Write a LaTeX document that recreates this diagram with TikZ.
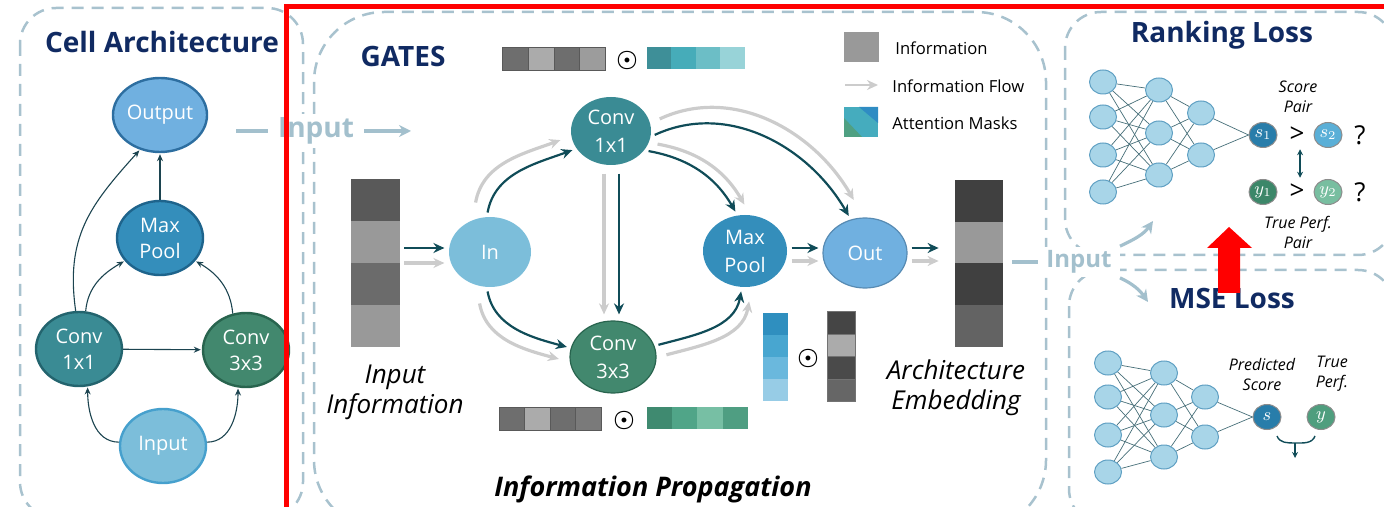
\documentclass[tikz,border=0pt]{standalone}
\usepackage{fontspec}
\setmainfont{Open Sans}
\usetikzlibrary{arrows.meta,shapes.geometric}
\definecolor{dashc}{RGB}{168,194,206}
\definecolor{lblc}{RGB}{163,192,205}
\definecolor{navy}{RGB}{16,42,98}
\definecolor{flowdark}{RGB}{16,76,88}
\definecolor{flowgray}{RGB}{204,204,204}
\definecolor{celldark}{RGB}{28,68,80}
\definecolor{outc}{RGB}{112,176,224}
\definecolor{outb}{RGB}{45,110,160}
\definecolor{poolc}{RGB}{52,142,187}
\definecolor{poolb}{RGB}{30,100,140}
\definecolor{convac}{RGB}{58,139,148}
\definecolor{convab}{RGB}{35,100,110}
\definecolor{convbc}{RGB}{66,136,110}
\definecolor{convbb}{RGB}{40,100,78}
\definecolor{inc}{RGB}{124,190,218}
\definecolor{inb}{RGB}{70,160,205}
\definecolor{nnfill}{RGB}{168,213,232}
\definecolor{nnline}{RGB}{95,160,195}
\definecolor{nnedgec}{RGB}{70,110,120}
\definecolor{redc}{RGB}{255,0,0}
\begin{document}
\begin{tikzpicture}[x=.5pt,y=-.5pt,
  panel/.style={draw=dashc,line width=1.25pt,dash pattern=on 6pt off 4pt,rounded corners=18pt},
  paneltitle/.style={font=\bfseries\fontsize{14}{16}\selectfont,text=navy,inner sep=0pt},
  cellop/.style={ellipse,minimum width=43pt,minimum height=37pt,inner sep=0pt,line width=1.2pt,text=white,align=center,font=\fontsize{10}{13}\selectfont},
  gateop/.style={ellipse,inner sep=0pt,line width=0.6pt,text=white,align=center,font=\fontsize{10}{14}\selectfont},
  cellflow/.style={draw=celldark,line width=0.55pt,-{Stealth[length=3.5pt,width=3pt]},shorten >=0.5pt},
  darkflow/.style={draw=flowdark,line width=1.1pt,-{Stealth[length=5.5pt,width=5pt]},shorten <=2pt,shorten >=2pt},
  grayflow/.style={draw=flowgray,line width=1.6pt,-{Stealth[length=5.5pt,width=5pt]},shorten <=2pt,shorten >=2pt},
  inputlbl/.style={font=\bfseries\fontsize{14}{16}\selectfont,text=lblc,fill=white,inner xsep=5pt,inner ysep=2pt},
  lblflow/.style={draw=lblc,line width=1.6pt},
  italbl/.style={font=\itshape\fontsize{13}{15}\selectfont,align=center,inner sep=0pt},
  legendtxt/.style={font=\fontsize{8.3}{10}\selectfont,anchor=west,inner sep=0pt},
  odotsym/.style={font=\fontsize{13}{13}\selectfont\boldmath,inner sep=0pt},
  nncell/.style={ellipse,minimum width=13.5pt,minimum height=12pt,inner sep=0pt,fill=nnfill,draw=nnline,line width=0.5pt},
  nnedge/.style={draw=nnedgec,line width=0.35pt},
  scorecell/.style={ellipse,minimum width=14pt,minimum height=12.5pt,inner sep=0pt,draw=black!45,line width=0.5pt,text=white,font=\fontsize{9}{9}\selectfont},
  smalllbl/.style={font=\itshape\fontsize{8}{10}\selectfont,align=center,inner sep=0pt},
  cmpsign/.style={font=\fontsize{13}{13}\selectfont,inner sep=1pt}]
\path[use as bounding box] (0,0) rectangle (1384,507);
\draw[panel] (20,8) rectangle (303,518);
\draw[panel,rounded corners=35pt] (314,12) rectangle (1046,530);
\draw[panel] (1065,12) rectangle (1394,255);
\draw[panel] (1069,270) rectangle (1394,525);
\node[paneltitle] (cell-title) at (162,42) {Cell Architecture};
\node[cellop,fill=outc,draw=outb] (c-out) at (160,115) {Output};
\node[cellop,fill=poolc,draw=poolb] (c-pool) at (160,238) {Max\\Pool};
\node[cellop,fill=convac,draw=convab] (c-c1) at (79,349) {Conv\\1x1};
\node[cellop,fill=convbc,draw=convbb] (c-c3) at (246,350) {Conv\\3x3};
\node[cellop,fill=inc,draw=inb] (c-in) at (163,446) {Input};
\draw[cellflow] (c-in.175) to[out=180,in=-90] (c-c1.-77);
\draw[cellflow] (c-in.5) to[out=0,in=-90] (c-c3.-102);
\draw[cellflow] (c-c1) -- (c-c3);
\draw[cellflow] (c-c1.80) to[out=85,in=210] (c-pool.213);
\draw[cellflow] (c-c3.110) to[out=95,in=-30] (c-pool.-33);
\draw[cellflow] (c-c1.95) to[out=98,in=228,looseness=1.1] (c-out.240);
\draw[cellflow] (c-pool) -- (c-out);
\node[inputlbl] (in-lbl) at (316,131) {Input};
\coordinate (inl-a) at (236,131);
\coordinate (inl-b) at (411,131);
\draw[lblflow] (inl-a) -- (in-lbl.west);
\draw[lblflow,-{Stealth[length=6pt,width=6pt]}] (in-lbl.east) -- (inl-b);
\node[paneltitle] (gates-title) at (403,57) {GATES};
\path[fill=black!57,draw=black!65,line width=.4pt] (502,47) rectangle (528,70);
\path[fill=black!33,draw=black!65,line width=.4pt] (528,47) rectangle (554,70);
\path[fill=black!57,draw=black!65,line width=.4pt] (554,47) rectangle (579,70);
\path[fill=black!39,draw=black!65,line width=.4pt] (579,47) rectangle (605,70);
\node[odotsym] (dot-top) at (627,61) {$\odot$};
\path[fill={rgb,255:red,62;green,143;blue,152}] (647,47) rectangle (671,69);
\path[fill={rgb,255:red,70;green,172;blue,185}] (671,47) rectangle (696,69);
\path[fill={rgb,255:red,108;green,190;blue,198}] (696,47) rectangle (720,69);
\path[fill={rgb,255:red,152;green,211;blue,216}] (720,47) rectangle (745,69);
\path[fill=black!40] (844,32) rectangle (879,62);
\node[legendtxt] (lg-info) at (895,48) {Information};
\coordinate (lg-a) at (845,85);
\coordinate (lg-b) at (878,85);
\draw[grayflow,line width=1.3pt,shorten <=0pt,shorten >=0pt] (lg-a) -- (lg-b);
\node[legendtxt] (lg-flow) at (892,86) {Information Flow};
\path[fill={rgb,255:red,69;green,172;blue,190}] (844,107) rectangle (878,137);
\path[fill={rgb,255:red,47;green,140;blue,195}] (859,107) -- (878,107) -- (878,123) -- cycle;
\path[fill={rgb,255:red,79;green,160;blue,130}] (844,118) -- (862,137) -- (844,137) -- cycle;
\node[legendtxt] (lg-mask) at (892,123) {Attention Masks};
\path[fill=black!65] (351,179) rectangle (400,221);
\path[fill=black!40] (351,221) rectangle (400,263);
\path[fill=black!58] (351,263) rectangle (400,305);
\path[fill=black!40] (351,305) rectangle (400,347);
\node[minimum width=24.5pt,minimum height=84pt,inner sep=0pt] (info) at (375.5,263) {};
\node[italbl] (info-lbl) at (395,392) {Input\\Information};
\node[gateop,minimum width=41pt,minimum height=35pt,fill=inc] (gin) at (490,252) {In};
\node[gateop,minimum width=40pt,minimum height=34pt,fill=convac] (g1) at (611,131) {Conv\\1x1};
\node[gateop,minimum width=43pt,minimum height=36pt,fill=convbc,draw=convbb] (g3) at (613,357) {Conv\\3x3};
\node[gateop,minimum width=42pt,minimum height=36pt,fill=poolc] (gpool) at (745,251) {Max\\Pool};
\node[gateop,minimum width=42pt,minimum height=35pt,fill=outc,draw=outb!80] (gout) at (865,253) {Out};
\path[fill=black!75] (955,180) rectangle (1003,222);
\path[fill=black!40] (955,222) rectangle (1003,263);
\path[fill=black!75] (955,263) rectangle (1003,305);
\path[fill=black!61] (955,305) rectangle (1003,347);
\node[minimum width=24pt,minimum height=83.5pt,inner sep=0pt] (emb) at (979,263.5) {};
\node[italbl] (emb-lbl) at (956,388) {Architecture\\Embedding};
\draw[grayflow,transform canvas={shift={(0pt,-7.5pt)}}] ([yshift=7.5pt]info.east) -- ([yshift=2pt]gin.west);
\draw[darkflow] ([yshift=7.5pt]info.east) -- ([yshift=2pt]gin.west);
\draw[grayflow,transform canvas={shift={(-6pt,5pt)}}] (gin.95) to[out=80,in=200] (g1.207);
\draw[darkflow] (gin.95) to[out=80,in=200] (g1.207);
\draw[grayflow,transform canvas={shift={(-4pt,-6pt)}}] (gin.-95) to[out=-80,in=165] (g3.168);
\draw[darkflow] (gin.-95) to[out=-80,in=165] (g3.168);
\draw[grayflow,shorten <=4pt,shorten >=3pt,transform canvas={shift={(-7.5pt,0pt)}}] ([xshift=4pt]g1.south) -- ([xshift=3pt]g3.north);
\draw[darkflow,shorten <=4pt,shorten >=3pt] ([xshift=4pt]g1.south) -- ([xshift=3pt]g3.north);
\draw[grayflow,transform canvas={shift={(4pt,-5pt)}}] (g3.15) to[out=15,in=-100] (gpool.-95);
\draw[darkflow] (g3.15) to[out=15,in=-100] (gpool.-95);
\draw[grayflow,transform canvas={shift={(4.5pt,3.5pt)}}] (g1.-30) to[out=-10,in=120] (gpool.102);
\draw[darkflow] (g1.-30) to[out=-10,in=120] (gpool.102);
\draw[grayflow,transform canvas={shift={(2.5pt,8pt)}}] (g1.-8) to[out=25,in=120] (gout.113);
\draw[darkflow] (g1.-8) to[out=25,in=120] (gout.113);
\draw[grayflow,transform canvas={shift={(0pt,-6.5pt)}}] ([yshift=1.5pt]gpool.east) -- ([yshift=2.5pt]gout.west);
\draw[darkflow] ([yshift=1.5pt]gpool.east) -- ([yshift=2.5pt]gout.west);
\draw[grayflow,transform canvas={shift={(0pt,-6.5pt)}}] ([yshift=2.5pt]gout.east) -- ([yshift=7.75pt,xshift=-6pt]emb.west);
\draw[darkflow] ([yshift=2.5pt]gout.east) -- ([yshift=7.75pt,xshift=-6pt]emb.west);
\path[fill=black!57,draw=black!65,line width=.4pt] (499,407) rectangle (524,430);
\path[fill=black!33,draw=black!65,line width=.4pt] (524,407) rectangle (550,430);
\path[fill=black!57,draw=black!65,line width=.4pt] (550,407) rectangle (575,430);
\path[fill=black!52,draw=black!65,line width=.4pt] (575,407) rectangle (601,430);
\node[odotsym] (dot-bot) at (624,420) {$\odot$};
\path[fill={rgb,255:red,63;green,138;blue,112}] (647,407) rectangle (672,429);
\path[fill={rgb,255:red,80;green,165;blue,136}] (672,407) rectangle (697,429);
\path[fill={rgb,255:red,119;green,191;blue,164}] (697,407) rectangle (723,429);
\path[fill={rgb,255:red,79;green,158;blue,130}] (723,407) rectangle (748,429);
\path[fill={rgb,255:red,47;green,143;blue,191}] (763,313) rectangle (788,335);
\path[fill={rgb,255:red,72;green,166;blue,208}] (763,335) rectangle (788,357);
\path[fill={rgb,255:red,106;green,184;blue,221}] (763,357) rectangle (788,379);
\path[fill={rgb,255:red,151;green,204;blue,230}] (763,379) rectangle (788,401);
\node[odotsym] (dot-side) at (808,358) {$\odot$};
\path[fill=black!73,draw=black!55,line width=.4pt] (827,311) rectangle (855,334);
\path[fill=black!33,draw=black!55,line width=.4pt] (827,334) rectangle (855,356);
\path[fill=black!71,draw=black!55,line width=.4pt] (827,356) rectangle (855,379);
\path[fill=black!60,draw=black!55,line width=.4pt] (827,379) rectangle (855,401);
\node[font=\bfseries\itshape\fontsize{13.5}{15}\selectfont,inner sep=0pt] (prop-lbl) at (653,489) {Information Propagation};
\node[paneltitle] (rank-title) at (1222,35) {Ranking Loss};
\node[nncell] (rk-1-1) at (1103,82) {};
\node[nncell] (rk-1-2) at (1103,117) {};
\node[nncell] (rk-1-3) at (1103,155) {};
\node[nncell] (rk-1-4) at (1103,192) {};
\node[nncell] (rk-2-1) at (1159,90) {};
\node[nncell] (rk-2-2) at (1159,133) {};
\node[nncell] (rk-2-3) at (1159,175) {};
\node[nncell] (rk-3-1) at (1201,113) {};
\node[nncell] (rk-3-2) at (1201,155) {};
\foreach \a in {1,...,4} \foreach \b in {1,2,3} \draw[nnedge] (rk-1-\a) -- (rk-2-\b);
\foreach \a in {1,2,3} \foreach \b in {1,2} \draw[nnedge] (rk-2-\a) -- (rk-3-\b);
\node[scorecell,fill={rgb,255:red,40;green,125;blue,170}] (rk-s1) at (1263,135) {$s_1$};
\node[scorecell,fill={rgb,255:red,90;green,175;blue,215}] (rk-s2) at (1328,135) {$s_2$};
\node[scorecell,fill={rgb,255:red,60;green,135;blue,105}] (rk-y1) at (1263,192) {$y_1$};
\node[scorecell,fill={rgb,255:red,120;green,190;blue,160}] (rk-y2) at (1328,192) {$y_2$};
\draw[nnedge] (rk-3-1) -- (rk-s1.west);
\draw[nnedge] (rk-3-2) -- (rk-s1.west);
\node[cmpsign] (rk-gt1) at (1297,135) {>};
\node[cmpsign] (rk-gt2) at (1297,192) {>};
\node[cmpsign] (rk-q1) at (1360,135) {?};
\node[cmpsign] (rk-q2) at (1360,192) {?};
\draw[draw=flowdark,line width=0.6pt,{Stealth[length=3pt,width=3pt]}-{Stealth[length=3pt,width=3pt]},shorten <=2pt,shorten >=2pt] ([xshift=1.5pt]rk-gt1.south) -- ([xshift=1.5pt]rk-gt2.north);
\node[smalllbl] (rk-score) at (1298,97) {Score\\Pair};
\node[smalllbl] (rk-true) at (1298,232) {True Perf.\\Pair};
\node[paneltitle] (mse-title) at (1232,298) {MSE Loss};
\node[nncell] (ms-1-1) at (1108,363) {};
\node[nncell] (ms-1-2) at (1108,397) {};
\node[nncell] (ms-1-3) at (1108,435) {};
\node[nncell] (ms-1-4) at (1108,472) {};
\node[nncell] (ms-2-1) at (1164,373) {};
\node[nncell] (ms-2-2) at (1164,415) {};
\node[nncell] (ms-2-3) at (1164,457) {};
\node[nncell] (ms-3-1) at (1205,397) {};
\node[nncell] (ms-3-2) at (1205,437) {};
\foreach \a in {1,...,4} \foreach \b in {1,2,3} \draw[nnedge] (ms-1-\a) -- (ms-2-\b);
\foreach \a in {1,2,3} \foreach \b in {1,2} \draw[nnedge] (ms-2-\a) -- (ms-3-\b);
\node[scorecell,fill={rgb,255:red,40;green,125;blue,170}] (ms-s) at (1267,417) {$s$};
\node[scorecell,fill={rgb,255:red,79;green,158;blue,126}] (ms-y) at (1321,417) {$y$};
\draw[nnedge] (ms-3-1) -- (ms-s.west);
\draw[nnedge] (ms-3-2) -- (ms-s.west);
\node[smalllbl] (ms-pred) at (1262,374) {Predicted\\Score};
\node[smalllbl] (ms-true) at (1332,374) {True\\Perf.};
\coordinate (br-l) at (1277,436);
\coordinate (br-m) at (1295,443);
\coordinate (br-r) at (1315,436);
\coordinate (br-end) at (1295,458);
\draw[draw=flowdark,line width=0.7pt] (br-l) to[out=-70,in=180] (br-m) to[out=0,in=-110] (br-r);
\draw[draw=flowdark,line width=0.6pt,-{Stealth[length=3pt,width=3pt]}] (br-m) -- (br-end);
\node[inputlbl,font=\bfseries\fontsize{12}{14}\selectfont,inner xsep=4pt] (out-lbl) at (1079,262) {Input};
\coordinate (outl-a) at (1012,262);
\coordinate (rank-in) at (1153,221);
\coordinate (mse-in) at (1148,302);
\draw[lblflow] (outl-a) -- (out-lbl.west);
\draw[lblflow,-{Stealth[length=6pt,width=6pt]}] (out-lbl.north east) to[out=25,in=235] (rank-in);
\draw[lblflow,-{Stealth[length=6pt,width=6pt]}] (out-lbl.south east) to[out=-25,in=125] (mse-in);
\draw[draw=redc,line width=2.5pt] (286.5,7) rectangle (1420,540);
\fill[redc] (1218,293) -- (1218,248) -- (1207,248) -- (1229,227) -- (1252,248) -- (1240,248) -- (1240,293) -- cycle;
\end{tikzpicture}
\end{document}
